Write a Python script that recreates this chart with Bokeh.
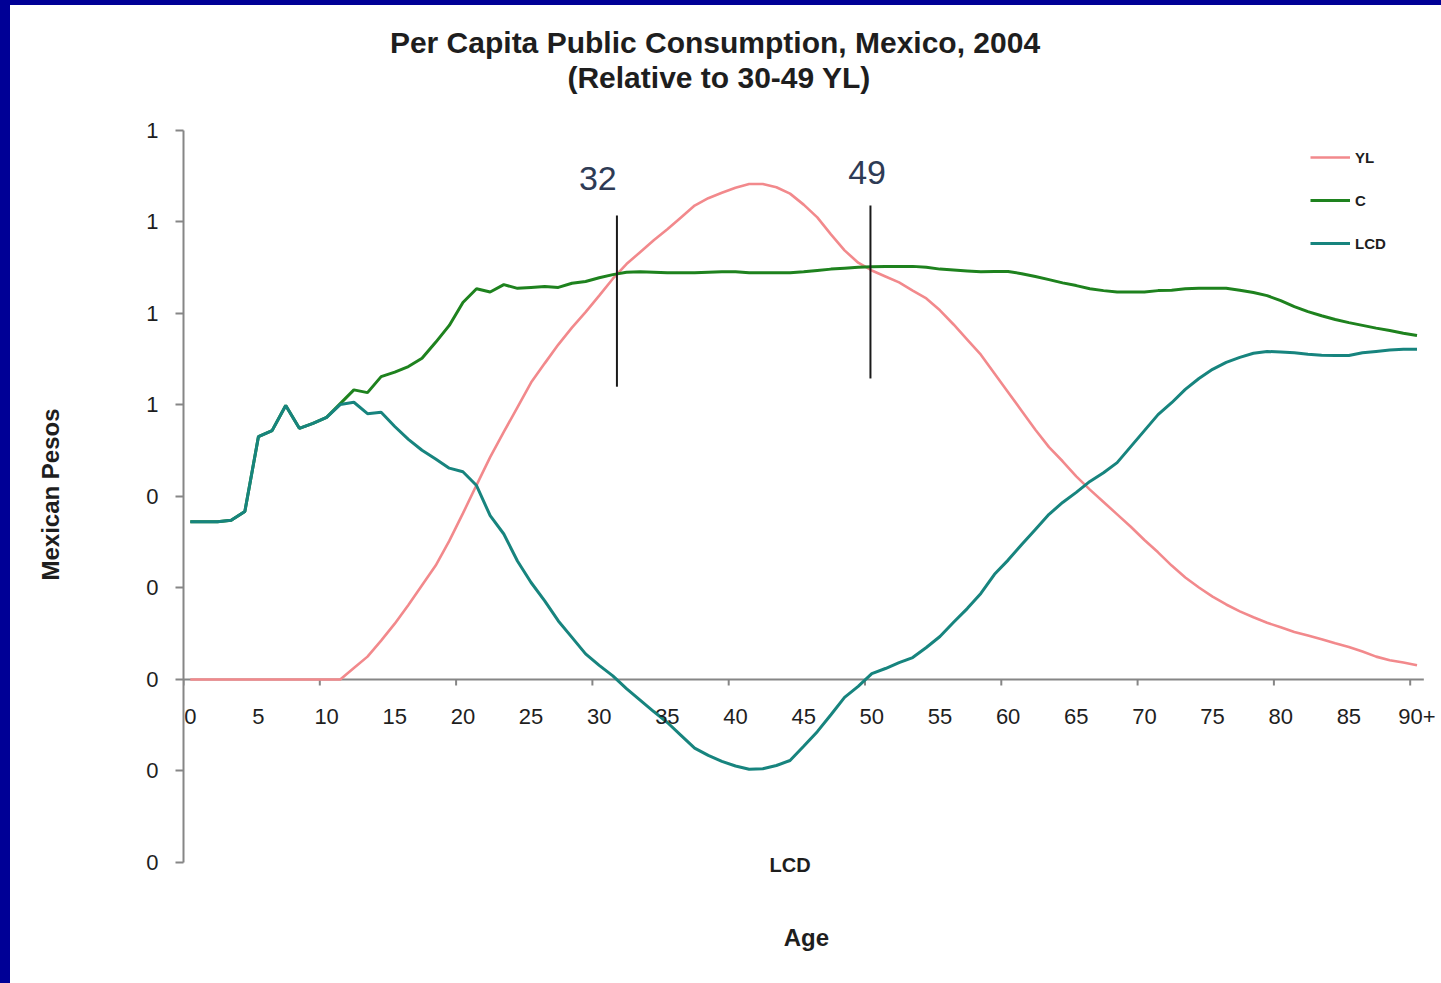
from bokeh.plotting import figure
from bokeh.models import Range1d, LinearAxis, FixedTicker, Label, Legend, LegendItem
from bokeh.layouts import column
from bokeh.embed import file_html
from bokeh.resources import INLINE

# ---------------- data ----------------
ages = list(range(91))

yl = [0.0] * 12 + [
    0.025, 0.050, 0.085, 0.122, 0.163, 0.206, 0.249, 0.303, 0.363,            # 12-20
    0.425, 0.486, 0.541, 0.595, 0.649, 0.691, 0.732, 0.769, 0.803, 0.839,     # 21-30
    0.876, 0.908, 0.934, 0.960, 0.984, 1.010, 1.036, 1.052, 1.064, 1.075,     # 31-40
    1.083, 1.083, 1.076, 1.062, 1.038, 1.010, 0.973, 0.938, 0.911, 0.894,     # 41-50
    0.881, 0.868, 0.850, 0.833, 0.807, 0.776, 0.743, 0.710, 0.669, 0.628,     # 51-60
    0.587, 0.546, 0.508, 0.477, 0.444, 0.415, 0.388, 0.361, 0.334, 0.305,     # 61-70
    0.278, 0.249, 0.223, 0.201, 0.181, 0.164, 0.149, 0.136, 0.124, 0.114,     # 71-80
    0.104, 0.096, 0.088, 0.079, 0.071, 0.061, 0.050, 0.042, 0.037, 0.031,     # 81-90
]

lcd = [
    0.345, 0.345, 0.345, 0.348, 0.367, 0.531, 0.544, 0.599, 0.549, 0.560,     # 0-9
    0.573, 0.601, 0.606, 0.581, 0.584, 0.553, 0.525, 0.501, 0.482, 0.462,     # 10-19
    0.454, 0.424, 0.358, 0.318, 0.259, 0.212, 0.172, 0.128, 0.092, 0.056,     # 20-29
    0.031, 0.008, -0.020, -0.045, -0.070, -0.094, -0.122, -0.150, -0.166, -0.179,  # 30-39
    -0.189, -0.196, -0.195, -0.188, -0.177, -0.146, -0.114, -0.077, -0.039, -0.015,  # 40-49
    0.013, 0.024, 0.037, 0.048, 0.070, 0.094, 0.125, 0.155, 0.188, 0.230,     # 50-59
    0.261, 0.295, 0.328, 0.361, 0.387, 0.409, 0.433, 0.452, 0.474, 0.509,     # 60-69
    0.544, 0.579, 0.605, 0.634, 0.658, 0.678, 0.693, 0.704, 0.713, 0.717,     # 70-79
    0.716, 0.714, 0.711, 0.709, 0.708, 0.708, 0.714, 0.717, 0.720, 0.722,     # 80-89
    0.722,                                                                     # 90
]

c = [
    0.345, 0.345, 0.345, 0.348, 0.367, 0.531, 0.544, 0.599, 0.549, 0.560,     # 0-9
    0.573, 0.603, 0.633, 0.627, 0.662, 0.672, 0.684, 0.702, 0.737, 0.774,     # 10-19
    0.824, 0.854, 0.847, 0.863, 0.855, 0.857, 0.859, 0.857, 0.866, 0.870,     # 20-29
    0.878, 0.885, 0.890, 0.891, 0.890, 0.889, 0.889, 0.889, 0.890, 0.891,     # 30-39
    0.891, 0.889, 0.889, 0.889, 0.889, 0.891, 0.894, 0.897, 0.899, 0.901,     # 40-49
    0.902, 0.903, 0.903, 0.903, 0.901, 0.897, 0.895, 0.893, 0.891, 0.892,     # 50-59
    0.892, 0.887, 0.881, 0.874, 0.867, 0.861, 0.854, 0.850, 0.847, 0.847,     # 60-69
    0.847, 0.850, 0.851, 0.854, 0.855, 0.855, 0.855, 0.851, 0.846, 0.839,     # 70-79
    0.828, 0.815, 0.804, 0.795, 0.787, 0.780, 0.774, 0.768, 0.763, 0.757,     # 80-89
    0.752,                                                                     # 90
]

series_names = ["YL", "C", "LCD"]
x_ticks = [0, 5, 10, 15, 20, 25, 30, 35, 40, 45, 50, 55, 60, 65, 70, 75, 80, 85, 90]
x_tick_labels = ["0", "5", "10", "15", "20", "25", "30", "35", "40", "45", "50",
                 "55", "60", "65", "70", "75", "80", "85", "90+"]
x_boundaries = [-0.5, 9.5, 19.5, 29.5, 39.5, 49.5, 59.5, 69.5, 79.5, 89.5]
y_ticks = [-0.4, -0.2, 0.0, 0.2, 0.4, 0.6, 0.8, 1.0, 1.2]
y_tick_labels = ["0", "0", "0", "0", "0", "1", "1", "1", "1"]

marker_labels = ["32", "49"]
marker_x = [31.3, 49.9]
marker_bottom = [0.640, 0.658]
marker_top = [1.014, 1.036]

title_lines = ["Per Capita Public Consumption,  Mexico, 2004", "(Relative to 30-49 YL)"]
x_title = "Age"
y_title = "Mexican Pesos"
sub_label = "LCD"

# ---------------- styles ----------------
COL_YL = "#F2898C"
COL_C = "#1E821E"
COL_LCD = "#17847E"
AXIS_COL = "#868686"
TXT = "#1e1e1e"
FONT = "Liberation Sans"

PX_PER_UNIT = 457.5                     # vertical pixels per data unit
AX_Y0, AX_Y1 = y_ticks[0], y_ticks[-1]  # extent of the drawn value axis
tick_len = 6 / PX_PER_UNIT

axis_start = -0.5
axis_end = len(ages) - 0.5

# the frame covers the whole canvas height so that texts above / below the axes can be drawn
p = figure(width=1431, height=978, output_backend="svg", toolbar_location=None,
           x_range=Range1d(-0.5, 91.65), y_range=Range1d(-0.66448, 1.47322),
           x_axis_type=None, title=None,
           min_border_left=173, min_border_right=2, min_border_top=0, min_border_bottom=0)
p.outline_line_color = None
p.grid.visible = False
p.background_fill_color = "white"
p.border_fill_color = "white"

# y axis
ya = p.yaxis[0]
ya.bounds = (AX_Y0, AX_Y1)
ya.ticker = FixedTicker(ticks=y_ticks)
ya.major_label_overrides = {t: l for t, l in zip(y_ticks, y_tick_labels)}
ya.minor_tick_line_color = None
ya.axis_line_color = AXIS_COL
ya.axis_line_width = 2
ya.major_tick_line_color = AXIS_COL
ya.major_tick_line_width = 2
ya.major_tick_out = 8
ya.major_tick_in = 0
ya.major_label_standoff = 17
ya.major_label_text_font = FONT
ya.major_label_text_font_size = "22px"
ya.major_label_text_color = TXT
ya.axis_label = y_title
ya.axis_label_text_font = FONT
ya.axis_label_text_font_size = "24px"
ya.axis_label_text_font_style = "bold"
ya.axis_label_text_color = TXT
ya.axis_label_standoff = 79

# x axis line at y = 0 with ticks on category boundaries
p.segment(x0=[axis_start], y0=[0], x1=[axis_end], y1=[0], line_color=AXIS_COL, line_width=2)
p.segment(x0=x_boundaries, y0=[0] * len(x_boundaries), x1=x_boundaries,
          y1=[-tick_len] * len(x_boundaries), line_color=AXIS_COL, line_width=2)

# x labels centred on categories
xa_lab = LinearAxis(fixed_location=0, ticker=FixedTicker(ticks=x_ticks))
xa_lab.major_label_overrides = {t: l for t, l in zip(x_ticks, x_tick_labels)}
xa_lab.axis_line_color = None
xa_lab.major_tick_line_color = None
xa_lab.minor_tick_line_color = None
xa_lab.major_tick_out = 0
xa_lab.major_label_standoff = 30
xa_lab.major_label_text_font = FONT
xa_lab.major_label_text_font_size = "22px"
xa_lab.major_label_text_color = TXT
p.add_layout(xa_lab, "below")

# lines
r_yl = p.line(ages, yl, line_color=COL_YL, line_width=2.6)
r_c = p.line(ages, c, line_color=COL_C, line_width=3)
r_lcd = p.line(ages, lcd, line_color=COL_LCD, line_width=3)

# annotation markers
p.segment(x0=marker_x, y0=marker_bottom, x1=marker_x, y1=marker_top,
          line_color="#1a1a1a", line_width=2)

legend = Legend(items=[LegendItem(label=series_names[0], renderers=[r_yl]),
                       LegendItem(label=series_names[1], renderers=[r_c]),
                       LegendItem(label=series_names[2], renderers=[r_lcd])],
                location=(1127, 730))
legend.border_line_color = None
legend.background_fill_alpha = 0
legend.padding = 0
legend.margin = 0
legend.spacing = 23
legend.glyph_width = 40
legend.glyph_height = 20
legend.label_standoff = 5
legend.label_text_font = FONT
legend.label_text_font_size = "15px"
legend.label_text_font_style = "bold"
legend.label_text_color = TXT
p.add_layout(legend)


def add_label(text, x, y, size, style="bold", color=TXT):
    p.add_layout(Label(x=x, y=y, text=text, text_align="center", text_baseline="middle",
                       text_font=FONT, text_font_size=size, text_font_style=style,
                       text_color=color))


# marker labels
add_label(marker_labels[0], 29.9, 1.095, "34px", style="normal", color="#2E3B55")
add_label(marker_labels[1], 49.65, 1.108, "34px", style="normal", color="#2E3B55")

# titles and texts outside the axes
add_label(title_lines[0], 38.8, 1.3923, "30px")
add_label(title_lines[1], 38.8, 1.3158, "30px")
add_label(sub_label, 44.0, -0.4044, "20px")
add_label(x_title, 45.2, -0.5639, "24px")

bg = ("linear-gradient(#000096,#000096) left top / 10px 100% no-repeat, "
      "linear-gradient(#000096,#000096) left top / 100% 5px no-repeat, white")
layout = column(p, styles={"background": bg, "padding-left": "10px", "padding-top": "5px"})

open("out.html", "w").write(file_html(layout, INLINE))
